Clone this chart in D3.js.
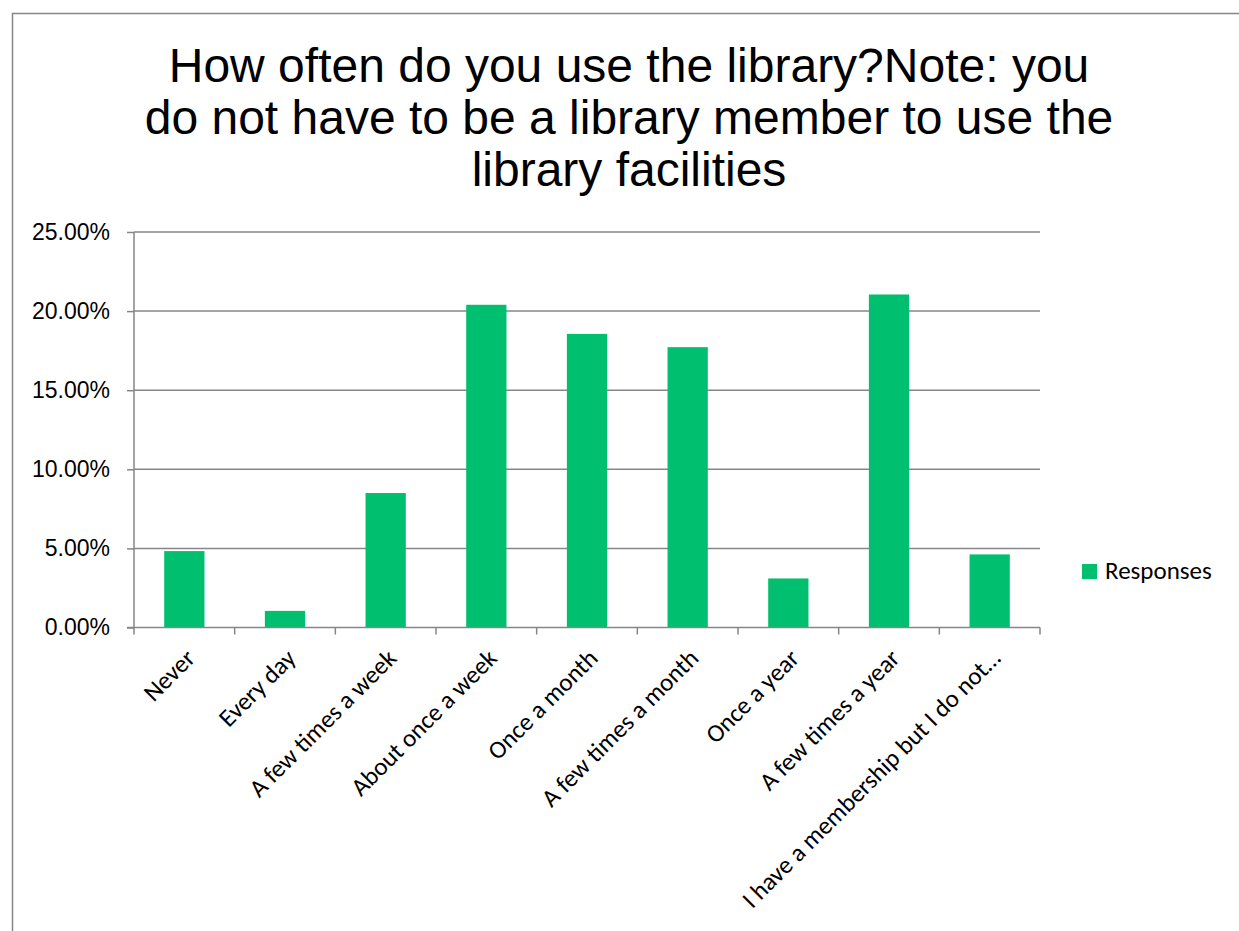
<!DOCTYPE html>
<html>
<head>
<meta charset="utf-8">
<script src="https://cdn.jsdelivr.net/npm/d3@7"></script>
<style>
  html, body { margin: 0; padding: 0; background: #fff; }
  svg { display: block; }
</style>
</head>
<body>
<div id="chart"></div>
<script>
const titleLines = [
  "How often do you use the library?Note: you",
  "do not have to be a library member to use the",
  "library facilities"
];
const categories = [
  "Never", "Every day", "A few times a week", "About once a week",
  "Once a month", "A few times a month", "Once a year",
  "A few times a year", "I have a membership but I do not\u2026"
];
const responses = [0.0483, 0.0105, 0.0850, 0.2040, 0.1856, 0.1772, 0.0310, 0.2105, 0.0462];
const yTicks = [0, 0.05, 0.10, 0.15, 0.20, 0.25];
const seriesName = "Responses";

const W = 1239, H = 931;
const margin = { left: 134, right: 1239 - 1040, top: 232, bottom: 931 - 627.5 };
const green = "#00bf6f";
const gray = "#868686";

const svg = d3.select("#chart").append("svg")
  .attr("width", W).attr("height", H);

svg.append("rect").attr("width", W).attr("height", H).attr("fill", "#fff");
// chart frame
svg.append("rect")
  .attr("x", 12.5).attr("y", 13.5)
  .attr("width", W + 10).attr("height", H + 10)
  .attr("fill", "none").attr("stroke", gray).attr("stroke-width", 1.5);

// title
const title = svg.append("text")
  .attr("text-anchor", "middle")
  .attr("font-family", "'Liberation Sans', Arial, sans-serif")
  .attr("font-size", 48)
  .attr("fill", "#000");
titleLines.forEach((t, i) => {
  title.append("tspan").attr("x", 629).attr("y", 82 + i * 52).text(t);
});

const x = d3.scaleBand()
  .domain(categories)
  .range([margin.left, W - margin.right])
  .paddingInner(0).paddingOuter(0);

const y = d3.scaleLinear()
  .domain([0, 0.25])
  .range([H - margin.bottom, margin.top]);

// gridlines
svg.append("g")
  .selectAll("line")
  .data(yTicks.filter(d => d > 0))
  .join("line")
  .attr("x1", margin.left).attr("x2", W - margin.right)
  .attr("y1", d => y(d)).attr("y2", d => y(d))
  .attr("stroke", gray).attr("stroke-width", 1.5);

// bars
svg.append("g")
  .selectAll("rect")
  .data(responses)
  .join("rect")
  .attr("x", (d, i) => x(categories[i]) + x.bandwidth() * 0.3)
  .attr("width", x.bandwidth() * 0.4)
  .attr("y", d => y(d))
  .attr("height", d => y(0) - y(d))
  .attr("fill", green);

// y axis
const yAxis = d3.axisLeft(y)
  .tickValues(yTicks)
  .tickFormat(d3.format(".2%"))
  .tickSize(7)
  .tickPadding(17);
const gy = svg.append("g")
  .attr("transform", `translate(${margin.left},0)`)
  .call(yAxis);
gy.select(".domain").attr("stroke", gray).attr("stroke-width", 1.5)
  .attr("d", `M0,${y(0.25)}V${y(0)}`);
gy.selectAll(".tick line").attr("stroke", gray).attr("stroke-width", 1.5);
gy.selectAll(".tick text")
  .attr("font-family", "'Liberation Sans', Arial, sans-serif")
  .attr("font-size", 23)
  .attr("fill", "#000");

// x axis
const gx = svg.append("g")
  .attr("transform", `translate(0,${y(0)})`);
gx.append("line")
  .attr("x1", margin.left - 7).attr("x2", W - margin.right)
  .attr("stroke", gray).attr("stroke-width", 1.5);
const boundaries = categories.map(c => x(c)).concat([x(categories[categories.length - 1]) + x.bandwidth()]);
gx.selectAll("line.tk")
  .data(boundaries)
  .join("line")
  .attr("class", "tk")
  .attr("x1", d => d).attr("x2", d => d)
  .attr("y1", 0).attr("y2", 7)
  .attr("stroke", gray).attr("stroke-width", 1.5);

gx.selectAll("text.cat")
  .data(categories)
  .join("text")
  .attr("class", "cat")
  .attr("transform", d => `translate(${x(d) + x.bandwidth() / 2 - 1},19) rotate(-45)`)
  .attr("text-anchor", "end")
  .attr("dy", "0.75em")
  .attr("font-family", "Carlito, Calibri, Lato, sans-serif")
  .attr("font-size", 25)
  .attr("fill", "#000")
  .text(d => d);

// legend
const lg = svg.append("g").attr("transform", "translate(1082,564)");
lg.append("rect").attr("width", 15).attr("height", 15).attr("fill", green);
lg.append("text")
  .attr("x", 23).attr("y", 15)
  .attr("font-family", "Carlito, Calibri, Lato, sans-serif")
  .attr("font-size", 25)
  .attr("fill", "#000")
  .text(seriesName);
</script>
</body>
</html>
